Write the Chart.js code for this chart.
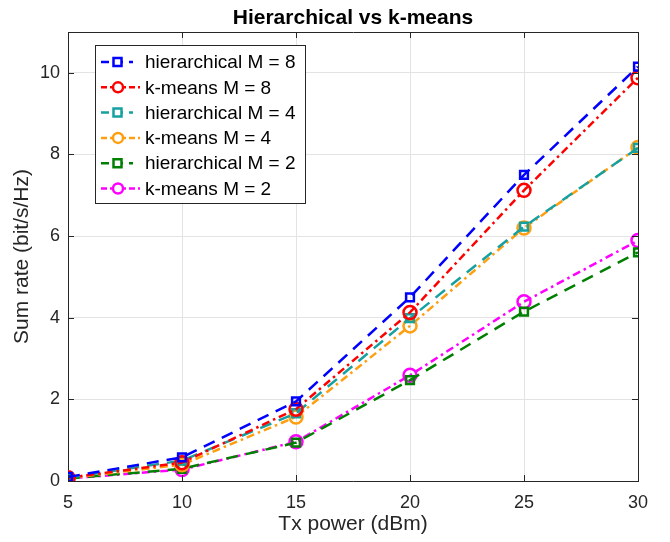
<!DOCTYPE html>
<html lang="en">
<head>
<meta charset="UTF-8">
<title>Hierarchical vs k-means</title>
<script src="https://cdn.jsdelivr.net/npm/chart.js"></script>
<style>
  html, body { margin: 0; padding: 0; background: #fff; }
  #wrap { width: 670px; height: 542px; }
</style>
</head>
<body>
<div id="wrap"><canvas id="c" width="670" height="542"></canvas></div>
<script>
// Tx power values (dBm)
const txPower = [5, 10, 15, 20, 25, 30];

// Sum rate (bit/s/Hz)
const hier8 = [0.10, 0.58, 1.95, 4.50, 7.50, 10.15];
const kmeans8 = [0.08, 0.45, 1.76, 4.13, 7.12, 9.88];
const hier4 = [0.08, 0.50, 1.66, 3.99, 6.23, 8.16];
const kmeans4 = [0.07, 0.40, 1.57, 3.80, 6.20, 8.17];
const hier2 = [0.06, 0.30, 0.94, 2.47, 4.15, 5.60];
const kmeans2 = [0.06, 0.28, 0.96, 2.59, 4.39, 5.89];

const seriesLabels = ['hierarchical M = 8', 'k-means M = 8', 'hierarchical M = 4',
                      'k-means M = 4', 'hierarchical M = 2', 'k-means M = 2'];
const seriesValues = [hier8, kmeans8, hier4, kmeans4, hier2, kmeans2];
const seriesColors = ['#0000ff', '#ff0000', '#16a0a0', '#ff9e0f', '#008000', '#ff00ff'];
const yTicks = [0, 2, 4, 6, 8, 10];

const FONT = '"Liberation Sans", Arial, Helvetica, sans-serif';
const INK = '#262626';

const datasets = seriesValues.map((vals, i) => {
  const isHier = i % 2 === 0;
  return {
    label: seriesLabels[i],
    data: vals.map((v, k) => ({ x: txPower[k], y: v })),
    borderColor: seriesColors[i],
    backgroundColor: seriesColors[i],
    borderWidth: 2.5,
    borderDash: isHier ? [12, 8] : [8, 4, 2.5, 4],
    pointStyle: isHier ? 'rect' : 'circle',
    pointRadius: isHier ? 5.5 : 6.5,
    pointBorderWidth: 2.5,
    pointBackgroundColor: 'rgba(0,0,0,0)',
    pointBorderColor: seriesColors[i],
    tension: 0,
    fill: false
  };
});

// title centred over the axes, legend drawn inside them
const axesDecor = {
  id: 'axesDecor',
  afterDatasetsDraw(chart) {
    const ctx = chart.ctx;
    const a = chart.chartArea;
    ctx.save();
    ctx.fillStyle = '#000';
    ctx.font = 'bold 21px ' + FONT;
    ctx.textAlign = 'center';
    ctx.textBaseline = 'middle';
    ctx.fillText('Hierarchical vs k-means', (a.left + a.right) / 2, 18);

    const x0 = 95, y0 = 45, w = 210, h = 158;
    ctx.fillStyle = '#fff';
    ctx.fillRect(x0, y0, w, h);
    ctx.strokeStyle = INK;
    ctx.lineWidth = 1;
    ctx.strokeRect(x0 + 0.5, y0 + 0.5, w, h);
    ctx.font = '19px ' + FONT;
    ctx.textAlign = 'left';
    chart.data.datasets.forEach((ds, i) => {
      const cy = y0 + 17 + i * 25.3;
      ctx.strokeStyle = ds.borderColor;
      ctx.lineWidth = 2.5;
      ctx.setLineDash(ds.pointStyle === 'rect' ? [8, 6] : [6, 3, 2, 3]);
      ctx.beginPath();
      ctx.moveTo(101, cy);
      ctx.lineTo(ds.pointStyle === 'rect' ? 133 : 141, cy);
      ctx.stroke();
      ctx.setLineDash([]);
      ctx.beginPath();
      if (ds.pointStyle === 'rect') {
        ctx.rect(113.5, cy - 4, 8, 8);
      } else {
        ctx.arc(118, cy, 5, 0, Math.PI * 2);
      }
      ctx.fillStyle = '#fff';
      ctx.fill();
      ctx.stroke();
      ctx.fillStyle = '#000';
      ctx.fillText(ds.label, 145, cy + 1);
    });
    ctx.restore();
  }
};

// inward tick marks on all four sides
const innerTicks = {
  id: 'innerTicks',
  afterDraw(chart) {
    const { ctx, chartArea: a, scales } = chart;
    ctx.save();
    ctx.strokeStyle = INK;
    ctx.lineWidth = 1;
    ctx.beginPath();
    txPower.forEach(v => {
      const px = Math.round(scales.x.getPixelForValue(v)) + 0.5;
      ctx.moveTo(px, a.bottom); ctx.lineTo(px, a.bottom - 6);
      ctx.moveTo(px, a.top); ctx.lineTo(px, a.top + 6);
    });
    yTicks.forEach(v => {
      const py = Math.round(scales.y.getPixelForValue(v)) + 0.5;
      ctx.moveTo(a.left, py); ctx.lineTo(a.left + 6, py);
      ctx.moveTo(a.right, py); ctx.lineTo(a.right - 6, py);
    });
    ctx.stroke();
    ctx.restore();
  }
};

new Chart(document.getElementById('c'), {
  type: 'line',
  data: { datasets },
  options: {
    responsive: false,
    animation: false,
    layout: { padding: { right: 32, top: 32, left: 0, bottom: 0 } },
    plugins: {
      legend: { display: false },
      tooltip: { enabled: false },
      title: { display: false }
    },
    scales: {
      x: {
        type: 'linear',
        min: 5, max: 30,
        afterBuildTicks: s => { s.ticks = txPower.map(v => ({ value: v })); },
        afterFit: s => { s.height = 61; },
        ticks: { color: INK, font: { family: FONT, size: 18 }, padding: 11, maxRotation: 0 },
        grid: {
          color: c => (c.tick && c.tick.value === 30) ? INK : '#e3e3e3',
          drawTicks: false
        },
        border: { color: INK, width: 1 },
        title: {
          display: true, text: 'Tx power (dBm)', color: INK,
          font: { family: FONT, size: 21 }, padding: { top: 0, bottom: 5 }
        }
      },
      y: {
        min: 0, max: 11,
        afterBuildTicks: s => { s.ticks = yTicks.concat([11]).map(v => ({ value: v })); },
        afterFit: s => { s.width = 68; },
        ticks: {
          color: INK, font: { family: FONT, size: 18 }, padding: 8,
          callback: v => (v === 11 ? '' : v)
        },
        grid: {
          color: c => (c.tick && c.tick.value === 11) ? INK : '#e3e3e3',
          drawTicks: false
        },
        border: { color: INK, width: 1 },
        title: {
          display: true, text: 'Sum rate (bit/s/Hz)', color: INK,
          font: { family: FONT, size: 21 }, padding: { top: 10, bottom: 0 }
        }
      }
    }
  },
  plugins: [axesDecor, innerTicks]
});
</script>
</body>
</html>
